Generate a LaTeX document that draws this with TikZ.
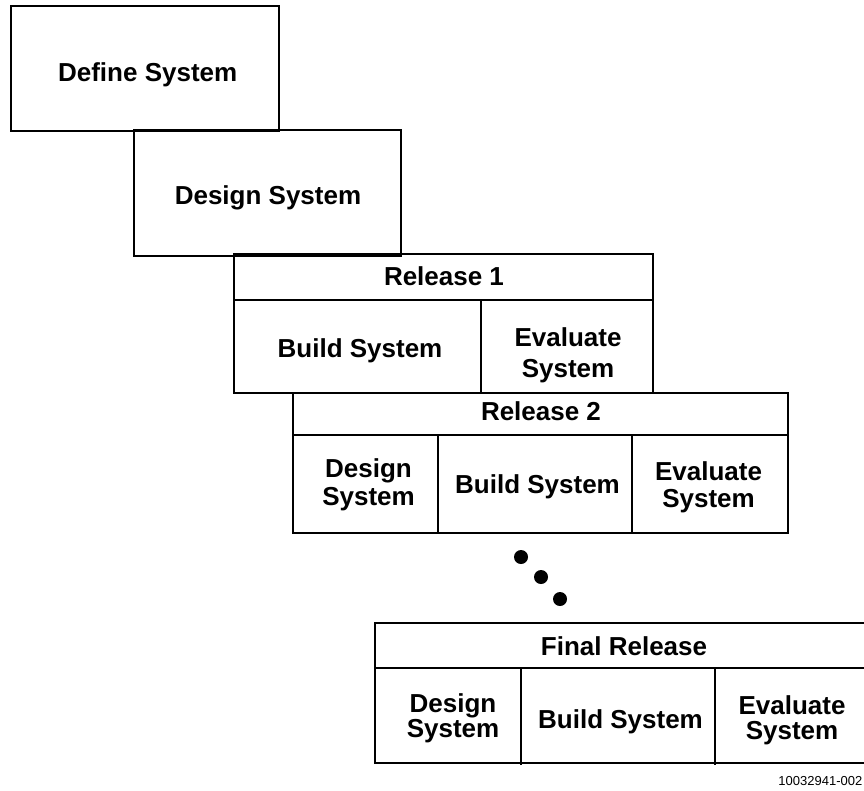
\documentclass[tikz,border=0pt]{standalone}
\usepackage{fontspec}
\setmainfont{Liberation Sans}
\begin{document}
\begin{tikzpicture}[x=1pt,y=-1pt,
  box/.style={draw, line width=2.6pt, inner sep=0pt, outer sep=0pt, anchor=north west},
  rule/.style={line width=2.6pt},
  lbl/.style={font=\bfseries\fontsize{26}{27}\selectfont, inner sep=0pt, align=center},
  dot/.style={fill=black, circle, minimum size=14pt, inner sep=0pt}]
\useasboundingbox (0,0) rectangle (864,790);
\clip (0,0) rectangle (864,790);

% first two stages
\node[box, minimum width=268pt, minimum height=125pt] (define) at (11,6) {};
\node[lbl, anchor=base] (defineT) at (147.7,81.7) {Define System};

\node[box, minimum width=267pt, minimum height=126pt] (design) at (134,130) {};
\node[lbl, anchor=base] (designT) at (268,204) {Design System};

% Release 1
\node[box, minimum width=419pt, minimum height=139pt] (r1) at (234,254) {};
\draw[rule] (234,300) -- (653,300);
\draw[rule] (481,300) -- (481,393);
\node[lbl, anchor=base] (r1T) at (444,285) {Release 1};
\node[lbl, anchor=base] (r1build) at (360,357) {Build System};
\node[lbl, font=\bfseries\fontsize{26}{31}\selectfont] (r1eval) at (568,355.5) {Evaluate\\System};

% Release 2
\node[box, minimum width=495pt, minimum height=140pt] (r2) at (293,393) {};
\draw[rule] (293,435) -- (788,435);
\draw[rule] (438,435) -- (438,533);
\draw[rule] (632,435) -- (632,533);
\node[lbl, anchor=base] (r2T) at (541,420) {Release 2};
\node[lbl, font=\bfseries\fontsize{26}{28}\selectfont] (r2design) at (368.5,484.3) {Design\\System};
\node[lbl, anchor=base] (r2build) at (537.5,493) {Build System};
\node[lbl] (r2eval) at (708.5,487.7) {Evaluate\\System};

% ellipsis
\node[dot] (d1) at (521,557) {};
\node[dot] (d2) at (541,577) {};
\node[dot] (d3) at (560,599) {};

% Final release
\node[box, minimum width=497pt, minimum height=140pt] (fin) at (375,623) {};
\draw[rule] (375,668) -- (872,668);
\draw[rule] (521,668) -- (521,765);
\draw[rule] (715,668) -- (715,765);
\node[lbl, anchor=base] (finT) at (624,655) {Final Release};
\node[lbl, font=\bfseries\fontsize{26}{25}\selectfont] (findesign) at (453,718.7) {Design\\System};
\node[lbl, anchor=base] (finbuild) at (620.5,728) {Build System};
\node[lbl, font=\bfseries\fontsize{26}{25}\selectfont] (fineval) at (792,720.7) {Evaluate\\System};

% figure number
\node[font=\fontsize{13}{15}\selectfont, inner sep=0pt, anchor=base east] (fignum) at (862.5,785) {10032941-002};
\end{tikzpicture}
\end{document}
